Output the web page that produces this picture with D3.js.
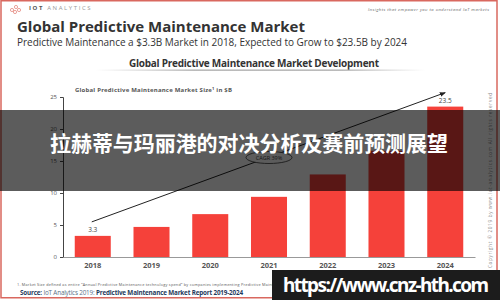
<!DOCTYPE html>
<html>
<head>
<meta charset="utf-8">
<script src="https://cdn.jsdelivr.net/npm/d3@7"></script>
<style>
  body { margin: 0; background: #fff; }
  svg { display: block; font-family: "Open Sans", "Noto Sans", sans-serif; }
</style>
</head>
<body>
<div id="chart"></div>
<script>
var width = 500;
var height = 300;

// data
var years = ["2018", "2019", "2020", "2021", "2022", "2023", "2024"];
var marketSize = [3.3, 4.7, 6.7, 9.4, 12.9, 16.6, 23.5];
var yTicks = [0, 5, 10, 15, 20, 25];
var shownLabels = {"2018": "3.3", "2024": "23.5"};

var svg = d3.select("#chart")
  .append("svg")
    .attr("width", width)
    .attr("height", height);

svg.append("rect")
  .attr("width", width)
  .attr("height", height)
  .attr("fill", "#fff");

// red frame
svg.append("rect")
  .attr("x", 1).attr("y", 0.75)
  .attr("width", 496).attr("height", 297)
  .attr("fill", "none")
  .attr("stroke", "#d9685f")
  .attr("stroke-width", 1.5);

// header
var logo = svg.append("g").attr("transform", "translate(12,6)");
[[0, 4], [4, 1], [7, 4], [3, 6]].forEach(function(p){
  logo.append("circle").attr("cx", p[0]).attr("cy", p[1]).attr("r", 1.6)
    .attr("fill", "none").attr("stroke", "#e58a80").attr("stroke-width", 0.8);
});
svg.append("text")
  .attr("x", 29).attr("y", 10)
  .attr("font-size", 6).attr("letter-spacing", 1.6)
  .attr("fill", "#999")
  .html('<tspan font-weight="bold" fill="#555">IOT</tspan> ANALYTICS');

svg.append("text")
  .attr("x", 368).attr("y", 11)
  .attr("font-size", 4.2).attr("font-style", "italic")
  .attr("fill", "#666")
  .attr("textLength", 121)
  .text("Insights that empower you to understand IoT markets");

svg.append("text")
  .attr("x", 17).attr("y", 32)
  .attr("font-size", 15).attr("font-weight", "bold")
  .attr("fill", "#333")
  .attr("textLength", 288)
  .text("Global Predictive Maintenance Market");

svg.append("text")
  .attr("x", 17).attr("y", 46)
  .attr("font-size", 10)
  .attr("fill", "#333")
  .attr("textLength", 390)
  .text("Predictive Maintenance a $3.3B Market in 2018, Expected to Grow to $23.5B by 2024");

// section title with fading underline
var grad = svg.append("defs").append("linearGradient").attr("id", "fade");
grad.append("stop").attr("offset", "0%").attr("stop-color", "#bbb").attr("stop-opacity", 0);
grad.append("stop").attr("offset", "30%").attr("stop-color", "#aaa").attr("stop-opacity", 1);
grad.append("stop").attr("offset", "75%").attr("stop-color", "#aaa").attr("stop-opacity", 1);
grad.append("stop").attr("offset", "100%").attr("stop-color", "#bbb").attr("stop-opacity", 0);

svg.append("text")
  .attr("x", 254).attr("y", 67)
  .attr("text-anchor", "middle")
  .attr("font-size", 10).attr("font-weight", "bold")
  .attr("fill", "#333")
  .attr("textLength", 250)
  .text("Global Predictive Maintenance Market Development");

svg.append("rect")
  .attr("x", 95).attr("y", 69.5)
  .attr("width", 330).attr("height", 1.3)
  .attr("fill", "url(#fade)");

svg.append("text")
  .attr("x", 75).attr("y", 92)
  .attr("font-size", 6).attr("font-weight", "bold")
  .attr("fill", "#555")
  .attr("textLength", 157)
  .html('Global Predictive Maintenance Market Size<tspan font-size="4" dy="-2">1</tspan><tspan dy="2"> in $B</tspan>');

// scales
var x = d3.scaleBand()
  .domain(years)
  .range([63, 475])
  .paddingInner(0.387)
  .paddingOuter(0.2);

var y = d3.scaleLinear()
  .domain([0, 25])
  .range([257, 97]);

var data = years.map(function(d, i){ return {year: d, value: marketSize[i]}; });

// y axis
var yAxis = svg.append("g")
  .attr("transform", "translate(63,0)")
  .call(d3.axisLeft(y).tickValues(yTicks).tickSize(3).tickPadding(3));
yAxis.select(".domain").attr("stroke", "#444");
yAxis.selectAll(".tick line").attr("stroke", "#444");
yAxis.selectAll("text").attr("font-size", 6).attr("fill", "#555").attr("font-family", "Open Sans");

// bars
svg.append("g")
  .selectAll("rect")
  .data(data)
  .enter()
  .append("rect")
    .attr("x", d => x(d.year))
    .attr("y", d => y(d.value))
    .attr("width", x.bandwidth())
    .attr("height", d => y(0) - y(d.value))
    .attr("fill", "#f5413a");

// x axis
var xAxis = svg.append("g")
  .attr("transform", "translate(0,257)")
  .call(d3.axisBottom(x).tickSize(0).tickPadding(6));
xAxis.select(".domain").attr("stroke", "#999").attr("stroke-width", 1.2);
xAxis.selectAll("text")
  .attr("font-size", 7.5).attr("font-weight", "bold")
  .attr("fill", "#555").attr("font-family", "Open Sans");

// value labels
svg.append("g")
  .selectAll("text")
  .data(data.filter(d => shownLabels[d.year]))
  .enter()
  .append("text")
    .attr("x", d => x(d.year) + x.bandwidth() / 2)
    .attr("y", d => y(d.value) - 4)
    .attr("text-anchor", "middle")
    .attr("font-size", 6.5)
    .attr("fill", "#444")
    .text(d => shownLabels[d.year]);

// growth arrow
svg.select("defs").append("marker")
  .attr("id", "arrow")
  .attr("viewBox", "0 0 10 10")
  .attr("refX", 9).attr("refY", 5)
  .attr("markerWidth", 6).attr("markerHeight", 6)
  .attr("orient", "auto")
  .append("path")
    .attr("d", "M0,1 L10,5 L0,9 Z")
    .attr("fill", "#222");

var first = data[0], last = data[data.length - 1];
svg.append("line")
  .attr("x1", x(first.year) + x.bandwidth() / 2 - 1)
  .attr("y1", y(first.value) - 14)
  .attr("x2", x(last.year) + x.bandwidth() / 2)
  .attr("y2", y(last.value) - 14)
  .attr("stroke", "#222")
  .attr("stroke-width", 1)
  .attr("marker-end", "url(#arrow)");

svg.append("ellipse")
  .attr("cx", 269).attr("cy", 157.5)
  .attr("rx", 23).attr("ry", 6)
  .attr("fill", "#fff")
  .attr("stroke", "#333").attr("stroke-width", 0.8);
svg.append("text")
  .attr("x", 269).attr("y", 159.5)
  .attr("text-anchor", "middle")
  .attr("font-size", 5.5)
  .attr("fill", "#444")
  .text("CAGR 39%");

// vertical copyright
svg.append("text")
  .attr("transform", "translate(492,268) rotate(-90)")
  .attr("font-size", 4.6)
  .attr("fill", "#888")
  .attr("textLength", 175)
  .text("Copyright \u00a9 2019 by www.iot-analytics.com All rights reserved");

// footnote and source
svg.append("text")
  .attr("x", 17).attr("y", 286)
  .attr("font-size", 3.8)
  .attr("fill", "#555")
  .attr("textLength", 290)
  .text("1. Market Size defined as entire \u201cAnnual Predictive Maintenance technology spend\u201d by companies implementing Predictive Maintenance solutions");

svg.append("text")
  .attr("x", 20).attr("y", 295)
  .attr("font-size", 6.3)
  .attr("fill", "#1f3a5c")
  .attr("textLength", 223)
  .html('<tspan font-weight="bold">Source: </tspan><tspan fill="#5a6f88">IoT Analytics 2019: </tspan><tspan font-weight="bold">Predictive Maintenance Market Report 2019-2024</tspan>');

// dark title band
svg.append("rect")
  .attr("x", 0).attr("y", 110)
  .attr("width", width).attr("height", 81)
  .attr("fill", "#000")
  .attr("fill-opacity", 0.64);

svg.append("text")
  .attr("x", 249).attr("y", 151)
  .attr("text-anchor", "middle")
  .attr("font-family", "Noto Sans CJK SC")
  .attr("font-size", 21).attr("font-weight", "bold")
  .attr("fill", "#fff")
  .attr("textLength", 398)
  .text("拉赫蒂与玛丽港的对决分析及赛前预测展望");

// url box
svg.append("rect")
  .attr("x", 272).attr("y", 270)
  .attr("width", 228).attr("height", 30)
  .attr("fill", "#1c1c1c");

svg.append("text")
  .attr("x", 386).attr("y", 292)
  .attr("text-anchor", "middle")
  .attr("font-family", "Noto Sans, sans-serif")
  .attr("font-size", 19).attr("font-weight", "bold")
  .attr("fill", "#fff")
  .attr("textLength", 206)
  .text("https://www.cnz-hth.com");
</script>
</body>
</html>
